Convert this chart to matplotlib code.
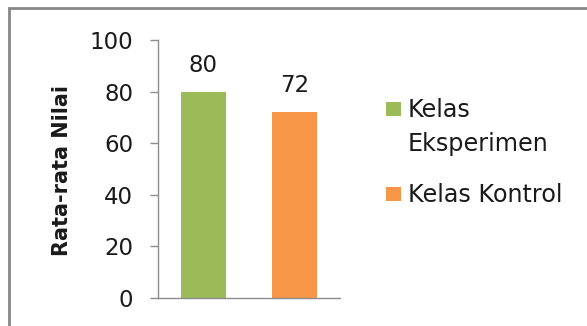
import matplotlib.pyplot as plt
from matplotlib.patches import Rectangle

# mean scores per class
series = ["Kelas\nEksperimen", "Kelas Kontrol"]
scores = [80, 72]
colors = ["#9BBB59", "#F79646"]
yticks = [0, 20, 40, 60, 80, 100]

plt.rcParams["font.family"] = ["DejaVu Sans"]
text_color = "#1a1a1a"
axis_color = "#8c8c8c"
fs = 16.5

W, H = 587, 326
fig = plt.figure(figsize=(W / 100, H / 100), dpi=100)

# outer frame, open at the right and bottom edges
fig.patches.append(Rectangle((8.5 / W, -0.1), 1.0, 1 - 7.5 / H + 0.1,
                             transform=fig.transFigure, fill=False,
                             ec="#878787", lw=2.0))

ax = fig.add_axes([158 / W, 1 - 298 / H, (340 - 158) / W, (298 - 40) / H])
for i, (lab, val, c) in enumerate(zip(series, scores, colors)):
    ax.bar(i, val, width=0.485, color=c, label=lab)
    ax.annotate(str(val), (i, val), xytext=(0, 14.4), textcoords="offset points",
                ha="center", va="baseline", fontsize=fs, color=text_color)

ax.set_xlim(-0.5, 1.5)
ax.set_ylim(0, 100)
ax.set_yticks(yticks)
ax.set_xticks([])
ax.tick_params(axis="y", length=6, width=1, color=axis_color, pad=12,
               labelsize=fs, labelcolor=text_color)
for s in ["top", "right"]:
    ax.spines[s].set_visible(False)
for s in ["left", "bottom"]:
    ax.spines[s].set_color(axis_color)
    ax.spines[s].set_linewidth(1)

fig.text(62 / W, 1 - 171 / H, "Rata-rata Nilai", rotation=90, ha="center",
         va="center", fontsize=15, fontweight="bold", color=text_color)

# legend entries, marker top-aligned with the first text line
marker_tops = [102, 187]
baselines = [116.5, 202.5]
for lab, c, top, base in zip(series, colors, marker_tops, baselines):
    fig.patches.append(Rectangle((386 / W, 1 - (top + 14) / H), 15 / W, 14 / H,
                                 transform=fig.transFigure, fc=c, ec="none"))
    for k, line in enumerate(lab.split("\n")):
        fig.text(408 / W, 1 - (base + 35 * k) / H, line, ha="left",
                 va="baseline", fontsize=17.2, color=text_color)

fig.savefig("out.png", dpi=100)
